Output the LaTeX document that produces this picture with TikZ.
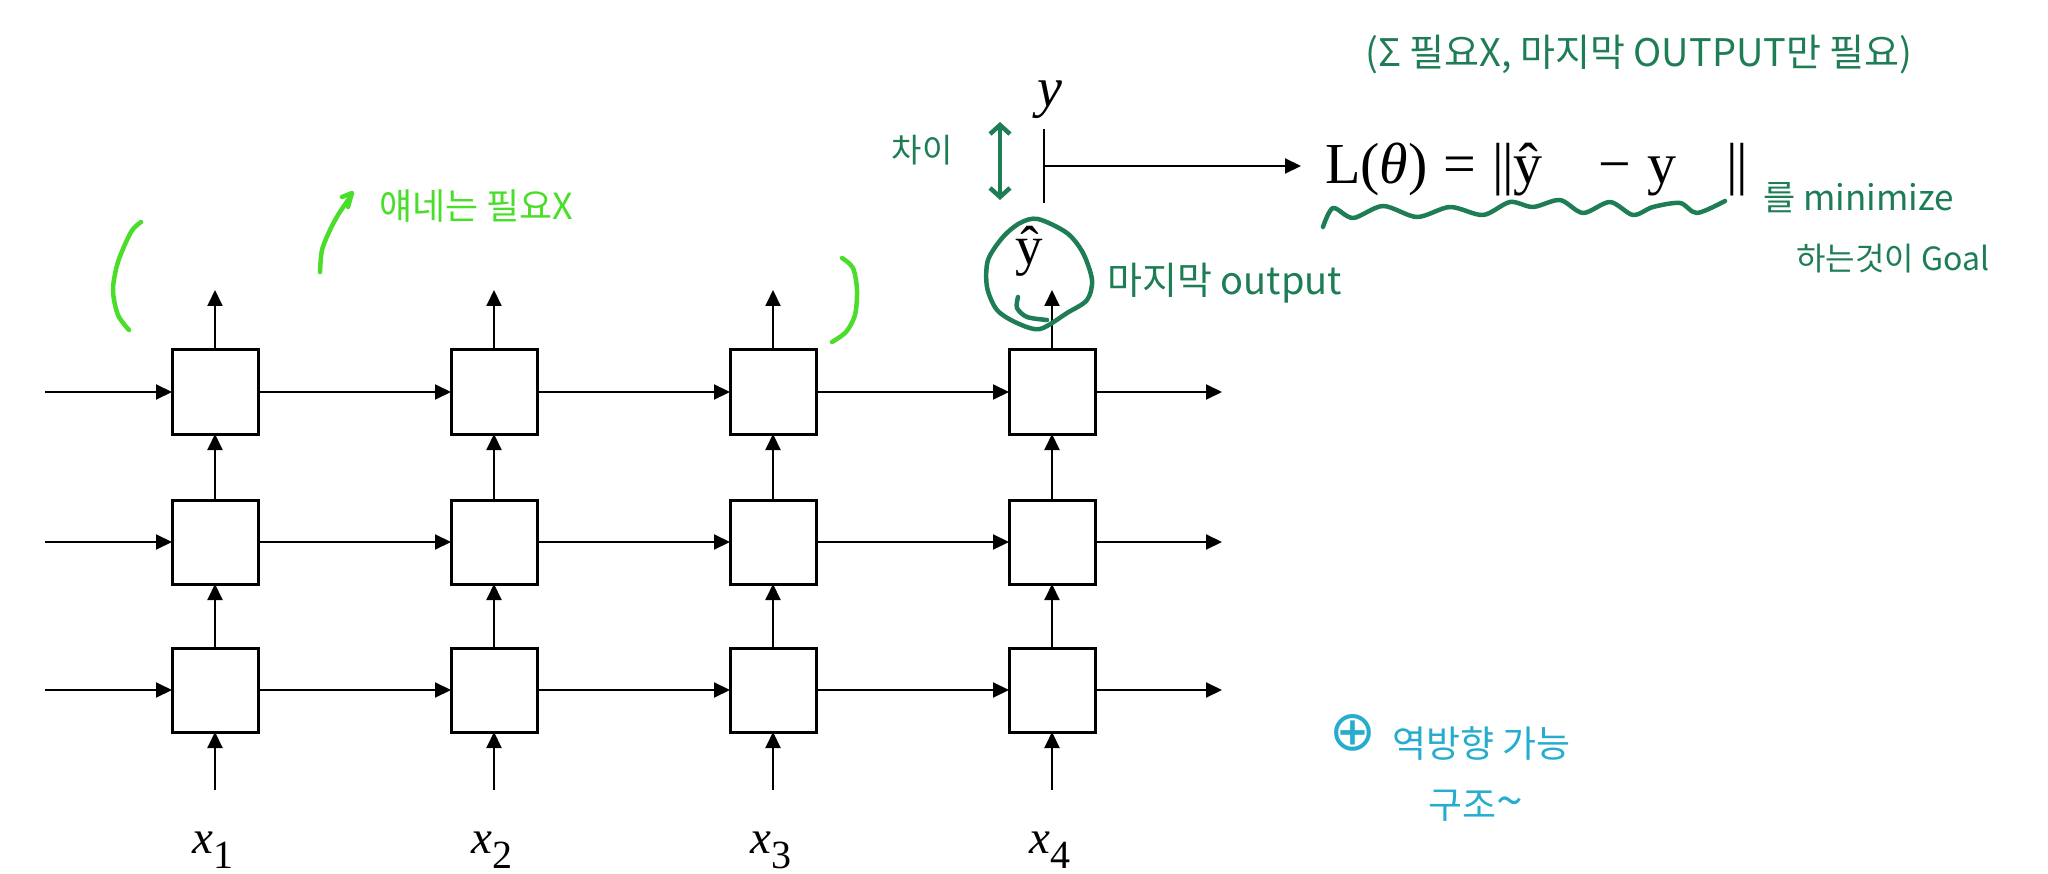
\documentclass[tikz,border=0pt]{standalone}
\usepackage{fontspec}
\setmainfont{Liberation Serif}
\newfontfamily\kr{Noto Sans CJK KR}
\newfontfamily\dvs{DejaVu Sans}
\usetikzlibrary{arrows.meta}
\definecolor{dkgreen}{HTML}{1E7D55}
\definecolor{ltgreen}{HTML}{4ADE2A}
\definecolor{cyanc}{HTML}{26ACCC}
\tikzset{
  cell/.style={draw, line width=3pt, minimum width=86pt, minimum height=84pt, inner sep=0pt, outer sep=0pt},
  arr/.style={line width=2pt, -{Triangle[length=16pt,width=15pt]}},
  hand/.style={line width=4.5pt, line cap=round, line join=round},
  note/.style={inner sep=0pt, font=\kr\fontsize{#1}{#1}\selectfont},
  note/.default=36
}
\begin{document}
\begin{tikzpicture}[x=1pt,y=-1pt]
\useasboundingbox (0,0) rectangle (2048,874);
% grid of cells
\foreach \c/\x in {1/215,2/494,3/773,4/1052}{
  \foreach \r/\y in {1/392,2/542,3/690}{
    \node[cell] (b\r\c) at (\x,\y) {};
  }
  \coordinate (xin\c) at (\x,790);
  \coordinate (top\c) at (\x,290);
}
\foreach \r/\y in {1/392,2/542,3/690}{
  \coordinate (in\r) at (45,\y);
  \coordinate (out\r) at (1222,\y);
  \draw[arr] (in\r) -- (b\r1.west);
  \draw[arr] (b\r1.east) -- (b\r2.west);
  \draw[arr] (b\r2.east) -- (b\r3.west);
  \draw[arr] (b\r3.east) -- (b\r4.west);
  \draw[arr] (b\r4.east) -- (out\r);
}
\foreach \c in {1,2,3,4}{
  \draw[arr] (xin\c) -- (b3\c.south);
  \draw[arr] (b3\c.north) -- (b2\c.south);
  \draw[arr] (b2\c.north) -- (b1\c.south);
  \draw[arr] (b1\c.north) -- (top\c);
}
% input labels
\foreach \c/\x in {1/215,2/494,3/773,4/1052}{
  \node[anchor=base, inner sep=0pt] (xl\c) at (\x-2,853)
    {\fontsize{47}{50}\selectfont\textit{x}\raisebox{-15pt}{\fontsize{40}{40}\selectfont \c}};
}
% y, bar and loss
\node[anchor=base, inner sep=0pt] (ylab) at (1050,107) {\fontsize{56}{60}\selectfont\textit{y}};
\coordinate (bartop) at (1044,129);
\coordinate (barbot) at (1044,203);
\coordinate (barmid) at (1044,166);
\draw[line width=2pt] (bartop) -- (barbot);
\node[anchor=base west, inner sep=0pt] (loss) at (1325,184)
  {\fontsize{58}{62}\selectfont L(\textit{θ})\hspace{16pt}=\hspace{16pt}|\kern-2pt|ŷ\hspace{56pt}−\hspace{16pt}y\hspace{50pt}|\kern-2pt|};
\draw[arr, shorten >=24pt] (barmid) -- (barmid -| loss.west);
% yhat
\node[anchor=base, inner sep=0pt] (yhat) at (1029,265) {\fontsize{55}{60}\selectfont ŷ};
% ---- dark green annotations ----
\draw[dkgreen, hand] plot[smooth cycle] coordinates {(1038,219) (1067,233) (1083,253) (1092,280) (1087,300) (1067,313) (1040,329) (1017,323) (997,310) (987,287) (988,260) (1003,237) (1020,223)};
\draw[dkgreen, hand] plot[smooth] coordinates {(1018,297) (1017,308) (1027,317) (1047,320)};
\coordinate (dtop) at (1000,122);
\coordinate (dbot) at (1000,200);
\draw[dkgreen, line width=4.5pt, {Straight Barb[length=9pt,width=20pt]}-{Straight Barb[length=9pt,width=20pt]}] (dtop) -- (dbot);
\node[note=33, text=dkgreen] (diff) at (922,150) {차이};
\node[note=38, text=dkgreen, anchor=west] (lastout) at (1107,283) {마지막 output};
\node[note=38, text=dkgreen] (topnote) at (1639,55) {(Σ 필요X, 마지막 OUTPUT만 필요)};
\draw[dkgreen, hand] plot[smooth] coordinates {(1323,227) (1333,208) (1353,218) (1383,206) (1417,217) (1450,207) (1483,215) (1510,202) (1533,207) (1560,200) (1583,213) (1610,202) (1633,215) (1653,207) (1680,203) (1697,213) (1725,201)};
\node[note=35, text=dkgreen, anchor=west] (minim) at (1763,198) {를 minimize};
\node[note=32, text=dkgreen, anchor=west] (goal) at (1796,259) {하는것이 Goal};
% ---- light green annotations ----
\draw[ltgreen, hand] plot[smooth] coordinates {(141,222) (131,232) (118,262) (113,290) (118,315) (129,330)};
\draw[ltgreen, hand] plot[smooth] coordinates {(320,272) (322,250) (330,230) (338,215) (346,203) (351,196)};
\draw[ltgreen, hand] (342,197) -- (352,193) -- (348,207);
\draw[ltgreen, hand] plot[smooth] coordinates {(842,258) (853,268) (857,290) (855,315) (846,332) (832,342)};
\node[note=36, text=ltgreen, anchor=west] (notneed) at (379,206) {얘네는 필요X};
% ---- cyan annotation ----
\node[inner sep=0pt, text=cyanc, font=\dvs\fontsize{56}{56}\selectfont] (plus) at (1353,733) {⊕};
\node[note=37, text=cyanc, anchor=west] (rev) at (1392,744) {역방향 가능};
\node[note=37, text=cyanc, anchor=west] (struct) at (1428,806) {구조{\fontsize{48}{48}\selectfont\textasciitilde}};
\end{tikzpicture}
\end{document}
